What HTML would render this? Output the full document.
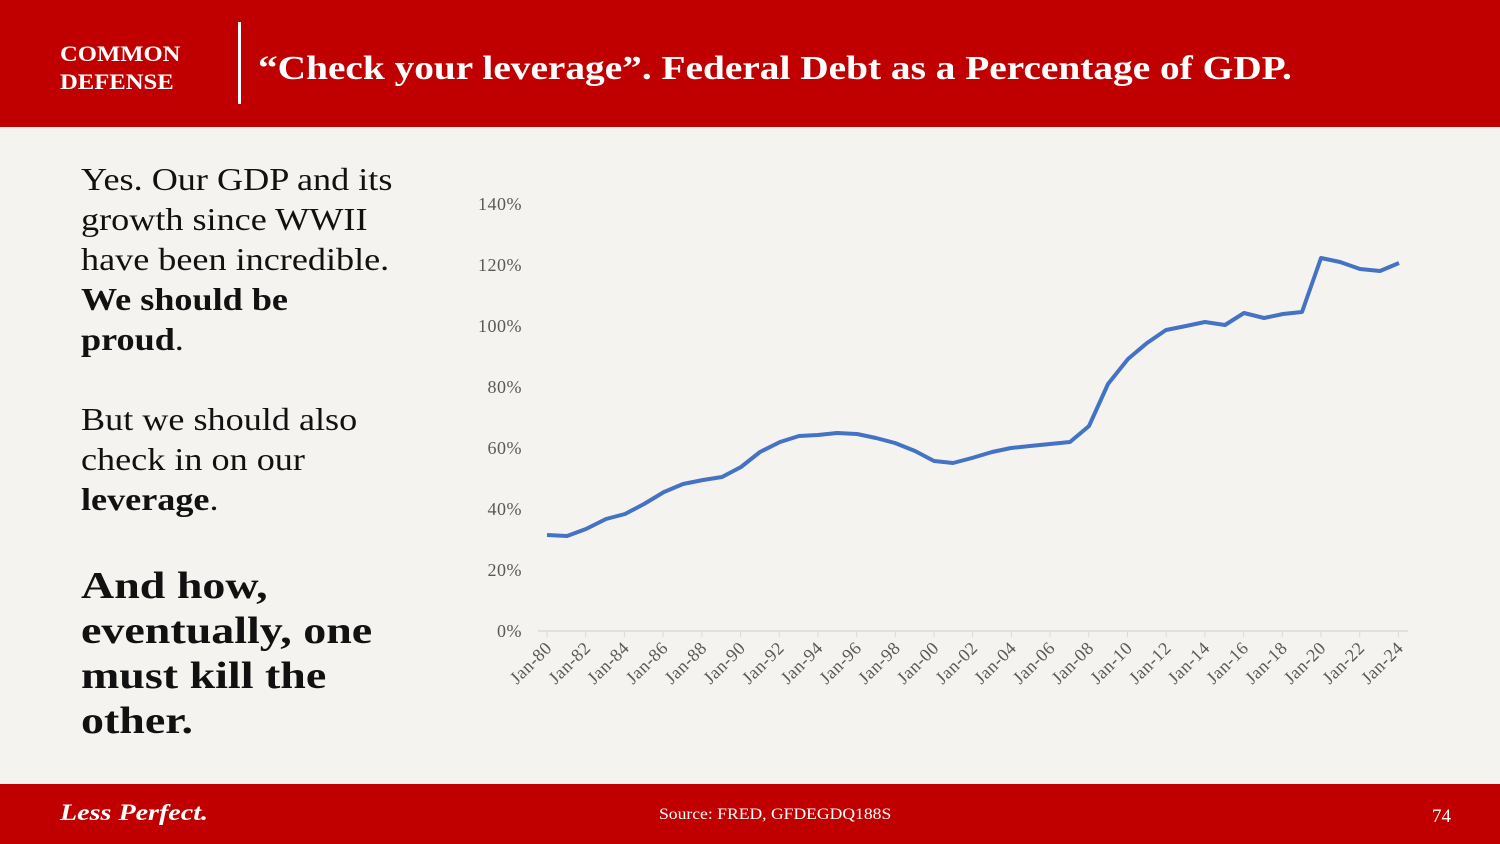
<!DOCTYPE html>
<html><head><meta charset="utf-8"><style>
body{margin:0;width:1500px;height:844px;background:#f5f3ef;position:relative;overflow:hidden;font-family:"Liberation Serif",serif}
.hdr{position:absolute;left:0;top:0;width:1500px;height:127px;background:#c00000}
.ftr{position:absolute;left:0;top:784px;width:1500px;height:60px;background:#c00000}
.w{color:#fff;position:absolute;transform-origin:0 0;white-space:nowrap}
.body{position:absolute;left:81px;color:#111;font-size:32px;line-height:40px;transform-origin:0 0;white-space:nowrap}
</style></head><body>
<div class="hdr">
<div class="w" style="left:60px;top:40px;font-size:22px;font-weight:bold;line-height:28px;transform:scaleX(1.12)">COMMON<br>DEFENSE</div>
<div style="position:absolute;left:238px;top:22px;width:3px;height:82px;background:#fff"></div>
<div class="w" style="left:258px;top:50px;font-size:34px;font-weight:bold;transform:scaleX(1.157)">“Check your leverage”. Federal Debt as a Percentage of GDP.</div>
</div>
<div class="body" style="top:159px;transform:scaleX(1.13)">Yes. Our GDP and its<br>growth since WWII<br>have been incredible.<br><b>We should be<br>proud</b>.</div>
<div class="body" style="top:399px;transform:scaleX(1.13)">But we should also<br>check in on our<br><b>leverage</b>.</div>
<div class="body" style="top:564px;font-size:38px;line-height:45px;font-weight:bold;transform:scaleX(1.21)">And how,<br>eventually, one<br>must kill the<br>other.</div>
<svg style="position:absolute;left:0;top:0" width="1500" height="844">
<g font-family="Liberation Serif,serif" font-size="18" letter-spacing="0.5" fill="#595959" text-anchor="end">
<text x="522" y="210">140%</text><text x="522" y="271">120%</text><text x="522" y="332">100%</text><text x="522" y="393">80%</text><text x="522" y="454">60%</text><text x="522" y="515">40%</text><text x="522" y="576">20%</text><text x="522" y="637">0%</text>
</g>
<line x1="538" y1="631" x2="1408" y2="631" stroke="#d9d9d9" stroke-width="1.5"/>
<g id="lbl" font-family="Liberation Serif,serif" font-size="18" letter-spacing="0.5" fill="#595959" text-anchor="end"></g>
<polyline fill="none" stroke="#4472c4" stroke-width="4" stroke-linejoin="round" points="547,535 567,536 586,529 606,519 625,514 644,504 664,492 683,484 703,480 722,477 741,467 760,452 780,442 799,436 818,435 837,433 857,434 876,438 895,443 915,451 934,461 953,463 972,458 992,452 1011,448 1030,446 1050,444 1070,442 1089,426 1108,384 1128,359 1147,343 1166,330 1186,326 1205,322 1225,325 1244,313 1264,318 1283,314 1302,312 1321,258 1340,262 1360,269 1380,271 1399,263"/>
</svg>
<script>
var g=document.getElementById('lbl'),s='';
for(var i=0;i<23;i++){var x=547+i*38.7;var lab=i<10?'Jan-'+(80+i*2):'Jan-'+String(i*2-20).padStart(2,'0');
s+='<line x1="'+x+'" y1="631" x2="'+x+'" y2="637" stroke="#d9d9d9"/><text transform="translate('+(x+6)+',649) rotate(-45)">'+lab+'</text>';}
g.innerHTML=s;
</script>
<div class="ftr">
<div class="w" style="left:60px;top:16px;font-size:23px;font-weight:bold;font-style:italic;transform:scaleX(1.22)">Less Perfect.</div>
<div class="w" style="left:659px;top:22px;font-size:16px;transform:scaleX(1.1)">Source: FRED, GFDEGDQ188S</div>
<div class="w" style="left:1432px;top:22px;font-size:19px">74</div>
</div>
</body></html>
